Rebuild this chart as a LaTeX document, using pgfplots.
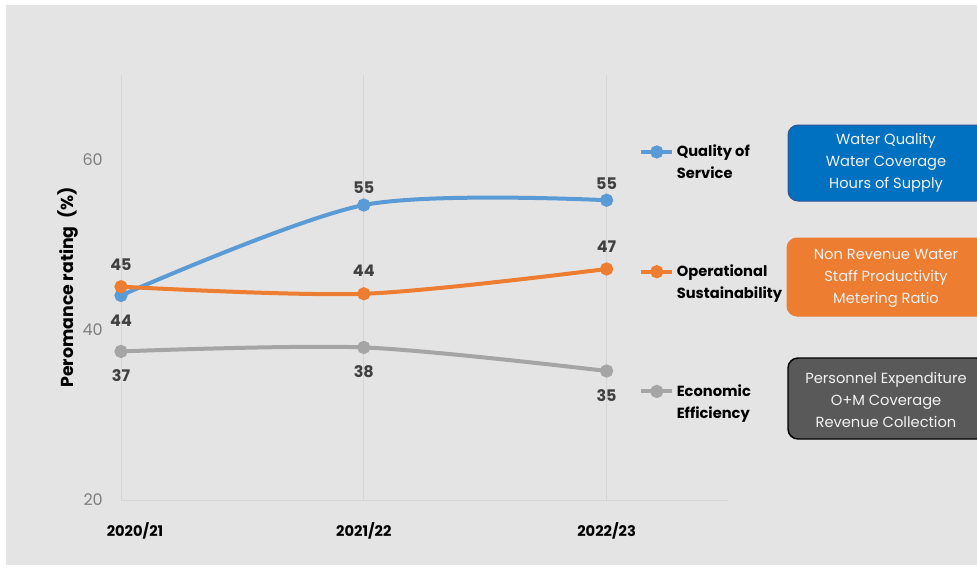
\documentclass[border=0pt]{standalone}
\usepackage{pgfplots}
\pgfplotsset{compat=1.18}
\usepackage{pgfplotstable}
\usepackage{fontspec}
\setmainfont{Poppins}
\definecolor{bg}{HTML}{E4E4E4}
\definecolor{qblue}{HTML}{5B9BD5}
\definecolor{oorange}{HTML}{ED7D31}
\definecolor{egray}{HTML}{A5A5A5}
\definecolor{gridc}{HTML}{D6D6D6}
\definecolor{lab}{HTML}{404040}
\definecolor{ticklab}{HTML}{7F7F7F}
\definecolor{boxblue}{HTML}{0070C0}
\definecolor{boxblueedge}{HTML}{2F5597}
\definecolor{boxorange}{HTML}{ED7D31}
\definecolor{boxgray}{HTML}{595959}
\definecolor{boxtext}{HTML}{F2F2F2}

\pgfplotstableread{
x y lab dy
1 44.06 44 -18.75
2 54.7 55 13
3 55.27 55 12.75
}\qos
\pgfplotstableread{
x y lab dy
1 45.1 45 16.3
2 44.26 44 17.25
3 47.18 47 16.7
}\ops
\pgfplotstableread{
x y lab dy
1 37.48 37 -18.3
2 37.95 38 -18.5
3 35.18 35 -18.75
}\eco

\begin{document}
\begin{tikzpicture}
\useasboundingbox (0,0) rectangle (732.75pt,426.75pt);
\fill[white] (0,0) rectangle (732.75pt,426.75pt);
\fill[bg] (4.5pt,3pt) rectangle (740pt,423pt);
\begin{axis}[
  at={(90.75pt,51.75pt)}, anchor=south west,
  scale only axis, width=455.25pt, height=318.75pt,
  xmin=1, xmax=3.5, ymin=20, ymax=70,
  clip=false,
  axis x line=bottom, axis y line=left,
  x axis line style={gridc, line width=0.75pt, -},
  y axis line style={draw=none, -},
  xtick={1,2,3},
  xticklabels={\hspace{21pt}2020/21, 2021/22, 2022/23\hspace{21pt}},
  xtick style={draw=none}, ytick style={draw=none},
  xmajorgrids, grid style={gridc, line width=0.75pt},
  ytick={20,40,60},
  /pgf/number format/assume math mode=true,
  yticklabel style={font=\fontsize{12}{12}\selectfont, text=ticklab, xshift=-8pt},
  xticklabel style={font=\bfseries\fontsize{11}{11}\selectfont, text=black, yshift=-11pt},
  ylabel={Peromance rating\ \ (\%)},
  ylabel style={at={(axis description cs:-0.0873,0.5)}, anchor=center, font=\bfseries\fontsize{13}{13}\selectfont, text=black},
  every axis plot/.append style={line width=3pt, smooth, mark=*, mark size=3.4pt},
  nodes near coords,
  point meta=explicit symbolic,
  visualization depends on={\thisrow{dy} \as \dy},
  every node near coord/.append style={anchor=center, yshift=\dy pt, font=\bfseries\fontsize{12}{12}\selectfont, text=lab},
  legend style={at={(axis description cs:0.8537,0.842)}, anchor=north west, draw=none, fill=none,
    row sep=59pt, font=\bfseries\fontsize{11}{16.5}\selectfont,
    nodes={align=left, text=black}, inner sep=0pt},
  legend cell align=left,
  legend image code/.code={\draw[mark repeat=2, mark phase=2, #1] plot coordinates {(0pt,8.25pt) (11.5pt,8.25pt) (23pt,8.25pt)};},
]
\addplot[qblue, mark options={fill=qblue, draw=qblue}] table[x=x, y=y, meta=lab] {\qos};
\addlegendentry{Quality of\\Service}
\addplot[oorange, mark options={fill=oorange, draw=oorange}] table[x=x, y=y, meta=lab] {\ops};
\addlegendentry{Operational\\Sustainability}
\addplot[egray, mark options={fill=egray, draw=egray}] table[x=x, y=y, meta=lab] {\eco};
\addlegendentry{Economic\\Efficiency}
\end{axis}
\begin{scope}[every node/.style={align=center, text=boxtext, font=\fontsize{11}{16.5}\selectfont}]
\draw[fill=boxblue, draw=boxblueedge, line width=0.75pt, rounded corners=7.5pt] (591pt,276pt) rectangle (740pt,333pt);
\node at (664.5pt,304.5pt) {Water Quality\\Water Coverage\\Hours of Supply};
\draw[fill=boxorange, draw=boxorange, line width=0.75pt, rounded corners=7.5pt] (590.25pt,189.75pt) rectangle (740pt,248.25pt);
\node at (664.5pt,218.25pt) {Non Revenue Water\\Staff Productivity\\Metering Ratio};
\draw[fill=boxgray, draw=black, line width=1.1pt, rounded corners=7.5pt] (591pt,97.5pt) rectangle (740pt,158.25pt);
\node at (664.5pt,126.75pt) {Personnel Expenditure\\O+M Coverage\\Revenue Collection};
\end{scope}
\end{tikzpicture}
\end{document}
